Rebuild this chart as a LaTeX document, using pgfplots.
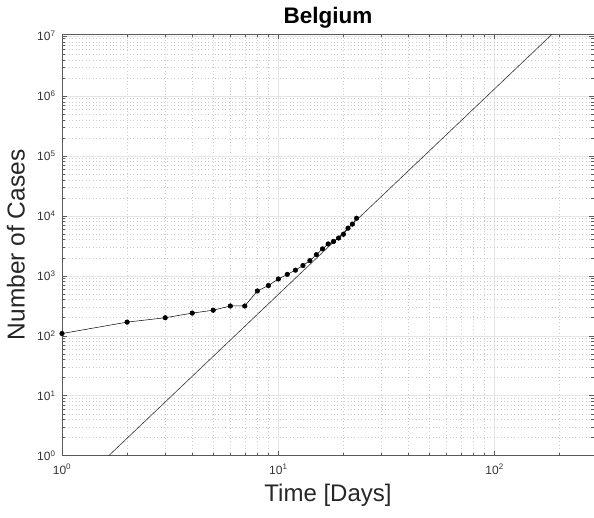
\documentclass[border=0pt]{standalone}
\usepackage{pgfplots}
\pgfplotsset{compat=1.18}
\usepackage{fontspec}
\setmainfont{Liberation Sans}
\definecolor{axcol}{gray}{0.35}
\begin{document}
\begin{tikzpicture}
\begin{axis}[
  scale only axis, width=532pt, height=421.7pt,
  xmode=log, ymode=log, log basis x=10, log basis y=10,
  xmin=1, xmax=288, ymin=1, ymax=1.08e7,
  xtick={1,10,100},
  ytick={1,10,100,1000,10000,100000,1000000,10000000},
  minor xtick={2,3,4,5,6,7,8,9,20,30,40,50,60,70,80,90,200,300},
  minor ytick={2,3,4,5,6,7,8,9,20,30,40,50,60,70,80,90,200,300,400,500,600,700,800,900,2000,3000,4000,5000,6000,7000,8000,9000,20000,30000,40000,50000,60000,70000,80000,90000,200000,300000,400000,500000,600000,700000,800000,900000,2000000,3000000,4000000,5000000,6000000,7000000,8000000,9000000},
  xticklabel={10\textsuperscript{\pgfmathparse{int(round(\tick))}\pgfmathresult}},
  yticklabel={10\textsuperscript{\pgfmathparse{int(round(\tick))}\pgfmathresult}},
  ticklabel style={font=\fontsize{12}{14}\selectfont, text=black!80},
  xticklabel style={yshift=-5pt},
  yticklabel style={xshift=-3pt},
  grid=both,
  major grid style={solid, color=black!10, line width=0.5pt},
  minor grid style={color=black!20, line width=0.5pt, dash pattern=on 0.8pt off 2.6pt},
  tick align=inside,
  major tick length=5pt, minor tick length=3pt,
  axis line style={axcol, line width=0.6pt},
  every tick/.style={axcol, line width=0.5pt},
  title={Belgium},
  title style={at={(axis description cs:0.5,1)}, anchor=base, yshift=5pt, inner sep=0pt, font=\bfseries\fontsize{22.5}{27}\selectfont},
  xlabel={Time [Days]},
  xlabel style={at={(axis description cs:0.5,0)}, anchor=north, yshift=-28pt, inner sep=0pt, font=\fontsize{24}{28}\selectfont, text=black!85},
  ylabel={Number of Cases},
  every axis y label/.style={at={(axis description cs:0,0.5)}, rotate=90, anchor=south, yshift=37pt, inner sep=0pt, font=\fontsize{24.5}{28}\selectfont, text=black!85},
]
\addplot[black!80, line width=0.6pt] coordinates {(1.5,0.73) (300,5.7e7)};
\addplot[black, line width=0.5pt, mark=*, mark size=2.3pt] coordinates {
(1,109) (2,169) (3,200) (4,239) (5,267) (6,314) (7,314) (8,559) (9,689) (10,886)
(11,1058) (12,1243) (13,1486) (14,1795) (15,2257) (16,2815) (17,3401) (18,3743)
(19,4269) (20,4937) (21,6235) (22,7284) (23,9134)
};
\end{axis}
\pgfresetboundingbox
\path[use as bounding box] (-62pt,-61.3pt) rectangle (532pt,455.7pt);
\end{tikzpicture}
\end{document}
